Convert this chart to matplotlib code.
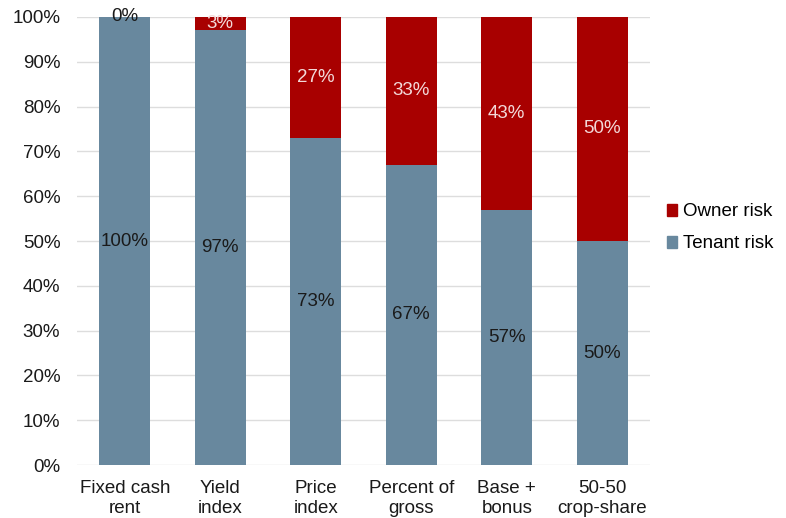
import matplotlib
matplotlib.use("Agg")
import matplotlib.pyplot as plt
from matplotlib.patches import Patch

plt.rcParams['font.family'] = ['Liberation Sans', 'DejaVu Sans']

categories = ["Fixed cash\nrent", "Yield\nindex", "Price\nindex", "Percent of\ngross", "Base +\nbonus", "50-50\ncrop-share"]
tenant = [100, 97, 73, 67, 57, 50]
owner = [0, 3, 27, 33, 43, 50]

tenant_color = "#68889E"
owner_color = "#A80000"
fs = 13.5

fig = plt.figure(figsize=(7.86, 5.18), dpi=100)
ax = fig.add_axes([77/786, 53/518, (650-77)/786, (465-17)/518])

x = list(range(len(categories)))
w = 0.53
ax.bar(x, tenant, width=w, color=tenant_color, zorder=3)
ax.bar(x, owner, width=w, bottom=tenant, color=owner_color, zorder=3)

for i in x:
    ax.text(i, tenant[i] / 2, f"{tenant[i]}%", ha="center", va="center", fontsize=fs, color="#1a1a1a", zorder=4)
    oc = "#1a1a1a" if owner[i] == 0 else "#F3D9D9"
    ax.text(i, tenant[i] + owner[i] / 2, f"{owner[i]}%", ha="center", va="center", fontsize=fs, color=oc, zorder=4)

ax.set_xlim(-0.5, 5.5)
ax.set_ylim(0, 100)
ax.set_yticks(range(0, 101, 10))
ax.set_yticklabels([f"{v}%" for v in range(0, 101, 10)], fontsize=fs, color="#1a1a1a")
ax.set_xticks(x)
ax.set_xticklabels(categories, fontsize=fs, color="#1a1a1a", linespacing=1.2)
ax.tick_params(axis="y", length=0, pad=12)
ax.tick_params(axis="x", length=0, pad=11)
ax.yaxis.grid(True, color="#DDDDDD", linewidth=1, zorder=0)
for s in ax.spines.values():
    s.set_visible(False)

handles = [Patch(color=owner_color, label="Owner risk"), Patch(color=tenant_color, label="Tenant risk")]
fig.legend(handles=handles, loc="center left", bbox_to_anchor=(650/786, 1 - 228/518), frameon=False,
           fontsize=fs, handlelength=0.55, handleheight=0.55, handletextpad=0.3, labelspacing=0.8)

fig.savefig("out.png", dpi=100)
